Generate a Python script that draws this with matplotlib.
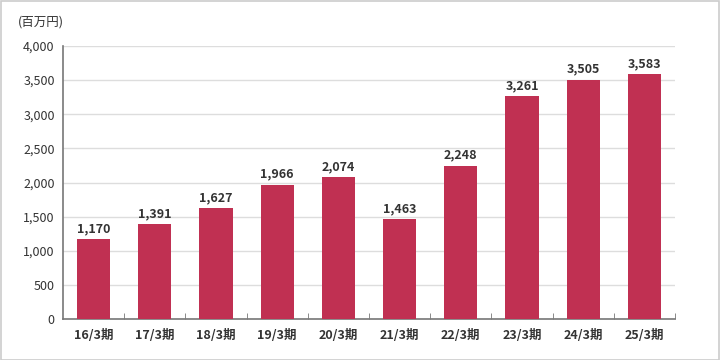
import matplotlib
matplotlib.use("Agg")
import matplotlib.pyplot as plt
from matplotlib.patches import Rectangle

categories = ["16/3期", "17/3期", "18/3期", "19/3期", "20/3期", "21/3期", "22/3期", "23/3期", "24/3期", "25/3期"]
values = [1170, 1391, 1627, 1966, 2074, 1463, 2248, 3261, 3505, 3583]
yticks = [0, 500, 1000, 1500, 2000, 2500, 3000, 3500, 4000]
unit_label = "(百万円)"

plt.rcParams['font.family'] = ['Noto Sans CJK JP', 'DejaVu Sans']

fig = plt.figure(figsize=(7.2, 3.6), dpi=100)
fig.patches.append(Rectangle((0.5/720, 0.5/360), 1 - 1.5/720, 1 - 1.5/360, transform=fig.transFigure,
                             fill=False, edgecolor='#cccccc', linewidth=1.2))
ax = fig.add_axes([63/720, 1 - 319/360, 612/720, 273/360])

x = range(len(categories))
ax.bar(x, values, width=0.54, color='#C03052', zorder=3)
for xi, v in zip(x, values):
    ax.text(xi, v + 60, f"{v:,}", ha='center', va='bottom', fontsize=9, fontweight='bold', color='#333333')

ax.set_xlim(-0.5, len(categories) - 0.5)
ax.set_ylim(0, 4000)
ax.set_yticks(yticks)
ax.set_yticklabels([f"{t:,}" for t in yticks], fontsize=9, color='#333333')
ax.set_xticks(list(x))
ax.set_xticklabels(categories, fontsize=9, fontweight='bold', color='#333333')
ax.tick_params(axis='x', length=0, pad=7)
ax.tick_params(axis='y', length=0, pad=6)
ax.set_xticks([i + 0.5 for i in range(len(categories))], minor=True)
ax.tick_params(axis='x', which='minor', length=4, color='#777777', direction='in')
ax.grid(axis='y', color='#dddddd', linewidth=1, zorder=0)
for s in ['top', 'right']:
    ax.spines[s].set_visible(False)
ax.spines['left'].set_color('#777777')
ax.spines['bottom'].set_color('#777777')
ax.spines['left'].set_linewidth(1.2)
ax.spines['bottom'].set_linewidth(1.2)

fig.text(18/720, 1 - 22/360, unit_label, fontsize=9, color='#333333', va='center', ha='left')

fig.savefig("out.png", dpi=100)
